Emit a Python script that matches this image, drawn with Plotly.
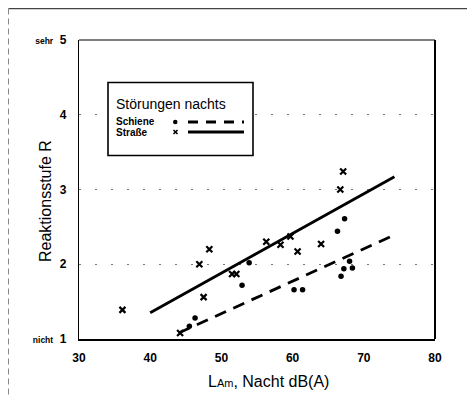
import plotly.graph_objects as go

# ---- data ----
strasse_x = [36.1, 44.2, 46.9, 47.5, 48.3, 51.5, 52.1, 56.3, 58.3, 59.7, 60.7, 64.0, 66.7, 67.1]
strasse_y = [1.39, 1.08, 2.00, 1.56, 2.20, 1.87, 1.87, 2.30, 2.26, 2.37, 2.17, 2.27, 3.00, 3.24]

schiene_x = [45.5, 46.3, 52.9, 53.9, 60.2, 61.4, 66.3, 66.8, 67.2, 67.3, 68.0, 68.4]
schiene_y = [1.17, 1.28, 1.72, 2.02, 1.66, 1.66, 2.44, 1.84, 1.94, 2.61, 2.04, 1.95]

strasse_fit_x = [40.0, 74.3]
strasse_fit_y = [1.35, 3.17]
schiene_fit_x = [44.0, 74.0]
schiene_fit_y = [1.08, 2.38]

x_ticks = [30, 40, 50, 60, 70, 80]
y_ticks = [1, 2, 3, 4, 5]
y_ticktext = ["nicht", "", "", "", "sehr"]

legend_title = "Störungen nachts"
legend_names = ["Schiene", "Straße"]

FONT = "Liberation Sans, Arial, sans-serif"

# page has an 8px body margin; geometry below is in window pixels
OFF = 8
L, R, T, B = 79, 435, 40, 339
W, H = 475 - OFF, 398 - OFF


def px(x):
    return (x - L) / (R - L)


def py(y):
    return (B - y) / (B - T)


fig = go.Figure()

fig.add_trace(go.Scatter(x=strasse_fit_x, y=strasse_fit_y, mode="lines",
                         line=dict(color="black", width=2.8), showlegend=False))
fig.add_trace(go.Scatter(x=schiene_fit_x, y=schiene_fit_y, mode="lines",
                         line=dict(color="black", width=2.8, dash="12px,8px"), showlegend=False))
fig.add_trace(go.Scatter(x=strasse_x, y=strasse_y, mode="markers", name=legend_names[1],
                         marker=dict(symbol="x-thin", size=6, color="black",
                                     line=dict(color="black", width=2.2)),
                         showlegend=False))
fig.add_trace(go.Scatter(x=schiene_x, y=schiene_y, mode="markers", name=legend_names[0],
                         marker=dict(symbol="circle", size=5.5, color="black"),
                         showlegend=False))

tt = []
for v, w in zip(y_ticks, y_ticktext):
    if w:
        tt.append("<span style='font-size:8.5px'><b>%s</b></span>\u00a0\u00a0<b>%d</b>" % (w, v))
    else:
        tt.append("<b>%d</b>" % v)

shapes = []
# top (thin) and right (thick) frame of plot area
shapes.append(dict(type="line", xref="paper", yref="paper", x0=0, x1=1, y0=1, y1=1,
                   line=dict(color="black", width=1.2)))
shapes.append(dict(type="line", xref="paper", yref="paper", x0=1, x1=1, y0=0, y1=1,
                   line=dict(color="black", width=2)))
# outer scan frame
shapes.append(dict(type="line", xref="paper", yref="paper", x0=px(8.5), x1=px(475), y0=py(8.5), y1=py(8.5),
                   line=dict(color="#444", width=1.5)))
shapes.append(dict(type="line", xref="paper", yref="paper", x0=px(8.5), x1=px(8.5), y0=py(8.5), y1=py(398),
                   line=dict(color="#888", width=1, dash="6px,4px")))
# legend box
shapes.append(dict(type="rect", xref="paper", yref="paper", x0=px(108), x1=px(253), y0=py(155.5), y1=py(82.5),
                   line=dict(color="black", width=1.6), fillcolor="white"))
# legend glyphs
shapes.append(dict(type="circle", xref="paper", yref="paper", x0=px(173), x1=px(177.5), y0=py(124.3), y1=py(119.8),
                   fillcolor="black", line=dict(color="black", width=0)))
shapes.append(dict(type="line", xref="paper", yref="paper", x0=px(188), x1=px(244), y0=py(122), y1=py(122),
                   line=dict(color="black", width=2.8, dash="10px,8px")))
shapes.append(dict(type="line", xref="paper", yref="paper", x0=px(173.5), x1=px(177.5), y0=py(130), y1=py(134),
                   line=dict(color="black", width=1.6)))
shapes.append(dict(type="line", xref="paper", yref="paper", x0=px(173.5), x1=px(177.5), y0=py(134), y1=py(130),
                   line=dict(color="black", width=1.6)))
shapes.append(dict(type="line", xref="paper", yref="paper", x0=px(188), x1=px(244), y0=py(132), y1=py(132),
                   line=dict(color="black", width=2.8)))

annotations = [
    dict(text=legend_title, xref="paper", yref="paper", x=px(114), y=py(104.5), xanchor="left",
         yanchor="middle", showarrow=False, font=dict(family=FONT, size=14, color="black")),
    dict(text="<b>%s</b>" % legend_names[0], xref="paper", yref="paper", x=px(114), y=py(121.5),
         xanchor="left", yanchor="middle", showarrow=False, font=dict(family=FONT, size=10, color="black")),
    dict(text="<b>%s</b>" % legend_names[1], xref="paper", yref="paper", x=px(114), y=py(132),
         xanchor="left", yanchor="middle", showarrow=False, font=dict(family=FONT, size=10, color="black")),
    dict(text="Reaktionsstufe R", xref="paper", yref="paper", x=px(45), y=py(201), textangle=-90,
         xanchor="center", yanchor="middle", showarrow=False, font=dict(family=FONT, size=16, color="black")),
    dict(text="L<span style='font-size:11px'>Am</span>, Nacht dB(A)", xref="paper", yref="paper",
         x=px(268), y=py(382), xanchor="center", yanchor="middle", showarrow=False,
         font=dict(family=FONT, size=16, color="black")),
]

fig.update_layout(
    width=W, height=H,
    margin=dict(l=L - OFF, r=(W + OFF) - R, t=T - OFF, b=(H + OFF) - B),
    paper_bgcolor="white", plot_bgcolor="white",
    showlegend=False,
    shapes=shapes, annotations=annotations,
    font=dict(family=FONT, color="black"),
    xaxis=dict(range=[30, 80], tickvals=x_ticks, ticktext=["<b>%d</b>" % v for v in x_ticks],
               showgrid=False, zeroline=False, showline=True, linecolor="black", linewidth=2.2,
               ticks="", ticklabelstandoff=6, tickfont=dict(family=FONT, size=12, color="black")),
    yaxis=dict(range=[1, 5], tickvals=y_ticks, ticktext=tt,
               showgrid=True, gridcolor="#777", gridwidth=1, griddash="2px,14px",
               zeroline=False, showline=True, linecolor="black", linewidth=1.2,
               ticks="", ticklabelstandoff=9, tickfont=dict(family=FONT, size=12, color="black")),
)

fig.write_html("out.html")
